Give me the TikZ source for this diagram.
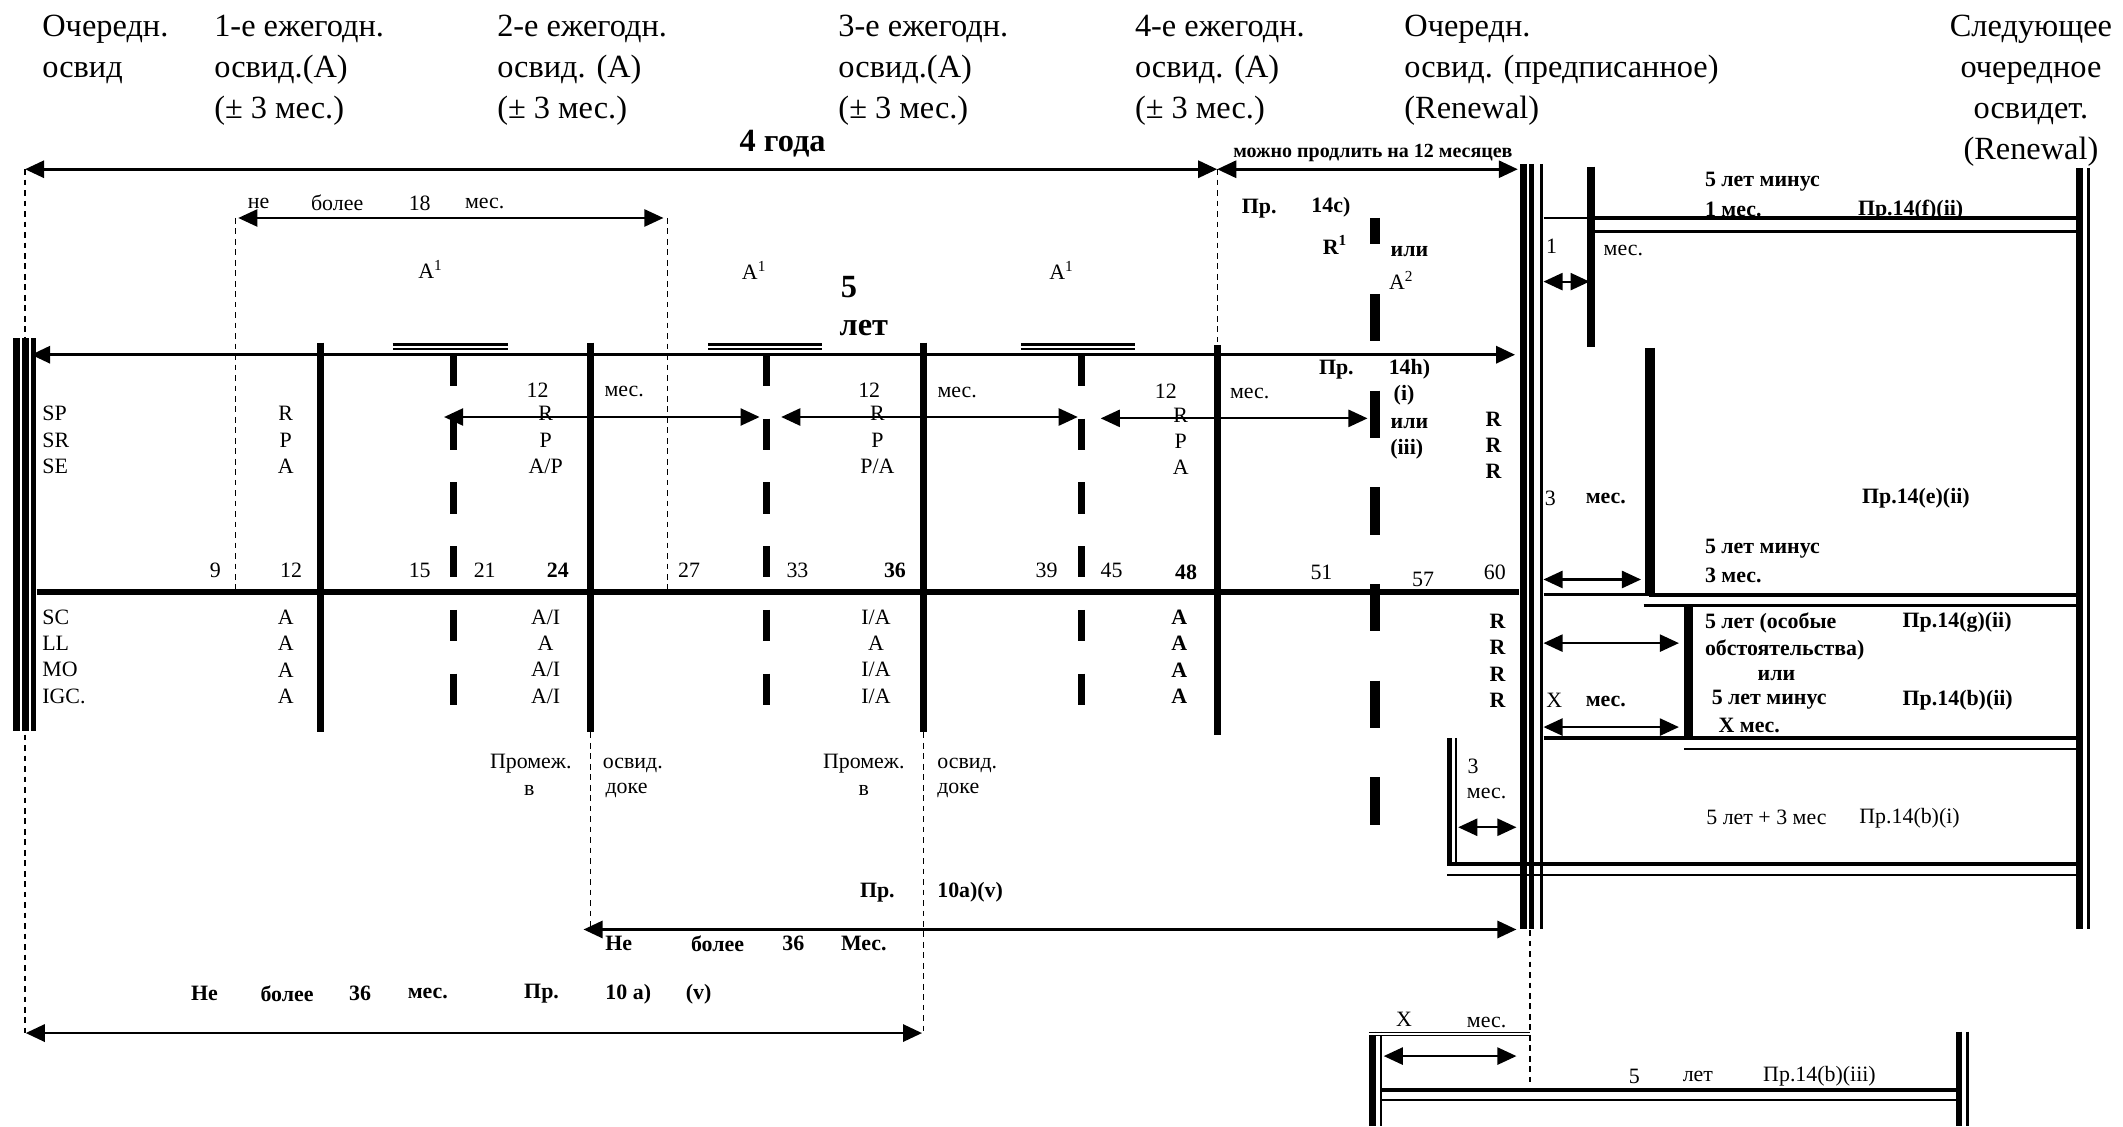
\documentclass[tikz,border=0pt]{standalone}
\usepackage{fontspec}
\setmainfont{Liberation Serif}
\usetikzlibrary{arrows.meta}

\newcommand\hdrsize{\fontsize{17}{21.5}\selectfont}
\newcommand\labsize{\fontsize{11.5}{13.8}\selectfont}
\newcommand\bigsize{\fontsize{17}{20}\selectfont\bfseries}

\tikzset{
  hdr/.style={font=\hdrsize, inner sep=0pt, align=left, anchor=north west},
  lab/.style={font=\labsize, inner sep=0pt, align=center},
  labb/.style={font=\labsize\bfseries, inner sep=0pt, align=center},
  bar/.style={line width=3.6pt},
  dashbar/.style={line width=3.6pt, dash pattern=on 16.4pt off 17.1pt},
  guide/.style={line width=0.6pt, dash pattern=on 3pt off 2.5pt},
  dim/.style={{Triangle[length=10pt,width=9pt]}-{Triangle[length=10pt,width=9pt]}, line width=1.1pt},
  twin/.style={double, line width=1.3pt, double distance=1.1pt},
}

\begin{document}
\begin{tikzpicture}[x=0.025cm,y=-0.025cm]
\useasboundingbox (0,0) rectangle (1568,832);

% headers
\node[hdr] (hfirst) at (31,11) {Очередн.\\освид};
\node[hdr] (hyear1) at (158,11) {1-е ежегодн.\\освид.(A)\\(± 3 мес.)};
\node[hdr] (hyear2) at (367,11) {2-е ежегодн.\\освид. (A)\\(± 3 мес.)};
\node[hdr] (hyear3) at (619,11) {3-е ежегодн.\\освид.(A)\\(± 3 мес.)};
\node[hdr] (hyear4) at (838,11) {4-е ежегодн.\\освид. (A)\\(± 3 мес.)};
\node[hdr] (hrenew) at (1037,11) {Очередн.\\освид. (предписанное)\\ (Renewal)};
\node[hdr, align=center, anchor=north] (hnext) at (1500,11) {Следующее\\очередное\\освидет.\\(Renewal)};

% 4 years / extension
\node[font=\bigsize, inner sep=0pt] (fouryears) at (578,106) {4 года};
\node[font=\fontsize{10.5}{12}\selectfont\bfseries, inner sep=0pt] (extend) at (1014,113) {можно продлить на 12 месяцев};
\draw[dim, line width=1.4pt] (18.5,125) -- (899,125);
\draw[dim, line width=1.4pt] (899,125) -- (1121,125);

% guides
\draw[guide] (18.5,125) -- (18.5,763);
\draw[guide] (174,161) -- (174,437);
\draw[guide] (493,161) -- (493,437);
\draw[guide] (899,125) -- (899,255);
\draw[guide] (436,541) -- (436,686);
\draw[guide] (682,541) -- (682,763);
\draw[guide] (1130,687) -- (1130,803);

% 18 months
\draw[dim] (176,161) -- (490,161);
\node[lab] (ne18) at (191,150) {не};
\node[lab] (bolee18) at (249,150) {более};
\node[lab] (n18) at (310,150) {18};
\node[lab] (mes18) at (358,150) {мес.};

\node[lab] (aone1) at (318,199) {A\textsuperscript{1}};
\node[lab] (aone2) at (557,200) {A\textsuperscript{1}};
\node[lab] (aone3) at (784,200) {A\textsuperscript{1}};
\node[font=\bigsize, inner sep=0pt] (five) at (627,212) {5};
\node[font=\bigsize, inner sep=0pt] (years) at (638,242) {лет};

\draw[twin] (290,256) -- (375,256);
\draw[twin] (523,256) -- (607,256);
\draw[twin] (754,256) -- (838,256);

% 5 years line and axis
\draw[dim, line width=1.6pt] (23,262) -- (1119,262);
\draw[line width=3pt] (27,437) -- (1122,437);

% left bars
\draw[line width=3.4pt] (12.3,250) -- (12.3,540);
\draw[line width=3.4pt] (19,250) -- (19,540);
\draw[line width=2.3pt] (24.8,250) -- (24.8,540);

% annual bars
\foreach \x in {237,436,682} \draw[bar] (\x,253) -- (\x,541);
\draw[bar] (899,255) -- (899,543);
\foreach \x in {335,566,799} \draw[dashbar] (\x,262) -- (\x,525);
\draw[line width=5.2pt] (1015.5,161) -- (1015.5,180);
\draw[line width=5.2pt, dash pattern=on 24.9pt off 25.9pt] (1015.5,217) -- (1015.5,610);

% 12 months arrows
\draw[dim] (328,308) -- (561,308);
\draw[dim] (577,308) -- (796,308);
\draw[dim] (813,309) -- (1010,309);
\node[lab] (tw1) at (397,288) {12};
\node[lab] (tw2) at (642,288) {12};
\node[lab] (tw3) at (861,289) {12};
\node[lab] (ms1) at (461,289) {мес.};
\node[lab] (ms2) at (707,290) {мес.};
\node[lab] (ms3) at (923,291) {мес.};

% rows
\node[lab, anchor=west, align=left] (rowsup) at (31,325) {SP\\SR\\SE};
\node[lab, anchor=west, align=left] (rowslow) at (31,485) {SC\\LL\\MO\\IGC.};
\node[lab] (c1up) at (211,325) {R\\P\\A};
\node[lab] (c1low) at (211,485) {A\\A\\A\\A};
\node[lab] (c2up) at (403,325) {R\\P\\A/P};
\node[lab] (c2low) at (403,485) {A/I\\A\\A/I\\A/I};
\node[lab] (c3up) at (648,325) {R\\P\\P/A};
\node[lab] (c3low) at (647,485) {I/A\\A\\I/A\\I/A};
\node[lab] (c4up) at (872,326) {R\\P\\A};
\node[labb] (c4low) at (871,485) {A\\A\\A\\A};
\node[labb] (c5up) at (1103,329) {R\\R\\R};
\node[labb] (c5low) at (1106,488) {R\\R\\R\\R};

% months
\foreach \n/\x/\y in {9/159/421,12/215/421,15/310/421,21/358/421,27/509/421,33/589/421,39/773/421,45/821/421,51/976/423,57/1051/428,60/1104/423}
  \node[lab] (m\n) at (\x,\y) {\n};
\foreach \n/\x/\y in {24/412/421,36/661/421,48/876/423}
  \node[labb] (m\n) at (\x,\y) {\n};

% rule 14
\node[labb] (pr14c) at (930,154) {Пр.};
\node[labb] (n14c) at (983,153) {14c)};
\node[labb] (rone) at (986,181) {R\textsuperscript{1}};
\node[labb] (ili1) at (1041,186) {или};
\node[lab] (atwo) at (1035,207) {A\textsuperscript{2}};
\node[labb] (pr14h) at (987,273) {Пр.};
\node[labb] (n14h) at (1041,273) {14h)};
\node[labb] (ri) at (1037,292) {(i)};
\node[labb] (ili2) at (1041,313) {или};
\node[labb] (riii) at (1039,332) {(iii)};

% renewal bars
\draw[line width=3.8pt] (1125.3,121) -- (1125.3,686);
\draw[line width=2.5pt] (1131.2,121) -- (1131.2,686);
\draw[line width=2pt] (1138.5,121) -- (1138.5,686);
\draw[line width=3.6pt] (1536,124) -- (1536,686);
\draw[line width=2pt] (1542.5,124) -- (1542.5,686);

% right side
\draw[line width=4.6pt] (1175,123) -- (1175,256);
\draw[line width=5pt] (1218.7,257) -- (1218.7,440);
\draw[line width=4.4pt] (1247,448) -- (1247,545);
\draw[line width=0.8pt] (1140,161) -- (1175,161);
\draw[line width=2pt] (1175,161) -- (1536,161);
\draw[line width=1.4pt] (1178,171) -- (1536,171);
\draw[line width=1.2pt] (1140,439) -- (1218,439);
\draw[line width=2.4pt] (1218,439.5) -- (1536,439.5);
\draw[line width=1.4pt] (1214,447) -- (1536,447);
\draw[line width=2pt] (1140,545) -- (1536,545);
\draw[line width=1pt] (1244,553) -- (1536,553);
\draw[line width=2.4pt] (1069,638) -- (1536,638);
\draw[line width=1pt] (1069,646) -- (1536,646);
\draw[line width=3pt] (1070.5,545) -- (1070.5,639);
\draw[line width=1pt] (1075.5,545) -- (1075.5,639);

\draw[dim] (1140,208) -- (1174,208);
\draw[dim] (1140,428) -- (1212,428);
\draw[dim] (1140,475) -- (1240,475);
\draw[dim] (1140,537) -- (1240,537);
\draw[dim] (1077,611) -- (1120,611);

\node[lab] (one1) at (1146,182) {1};
\node[lab] (onemes) at (1199,185) {мес.};
\node[labb, anchor=west] (f1) at (1259,134) {5 лет минус};
\node[labb, anchor=west] (f2) at (1259,155) {1 мес.};
\node[labb, anchor=west] (fpr) at (1372,155) {Пр.14(f)(ii)};
\node[lab] (three1) at (1145,368) {3};
\node[labb] (threemes) at (1186,368) {мес.};
\node[labb, anchor=west] (epr) at (1375,368) {Пр.14(e)(ii)};
\node[labb, anchor=west] (e1) at (1259,405) {5 лет минус};
\node[labb, anchor=west] (e2) at (1259,425) {3 мес.};
\node[labb, anchor=west] (g1) at (1259,460) {5 лет (особые};
\node[labb, anchor=west] (g2) at (1259,480) {обстоятельства)};
\node[labb] (g3) at (1312,499) {или};
\node[labb, anchor=west] (g4) at (1264,517) {5 лет минус};
\node[labb, anchor=west] (g5) at (1269,536) {X мес.};
\node[labb, anchor=west] (gpr) at (1405,460) {Пр.14(g)(ii)};
\node[labb, anchor=west] (bpr2) at (1405,517) {Пр.14(b)(ii)};
\node[lab] (xone) at (1148,517) {X};
\node[labb] (xmes) at (1186,518) {мес.};
\node[lab] (three2) at (1088,566) {3};
\node[lab] (threemes2) at (1098,586) {мес.};
\node[lab, anchor=west] (b1) at (1260,604) {5 лет + 3 мес};
\node[lab, anchor=west] (bpr1) at (1373,604) {Пр.14(b)(i)};

% bottom box
\draw[line width=3.6pt] (1013.6,762) -- (1013.6,832);
\draw[line width=1.4pt] (1020,762) -- (1020,832);
\draw[double, line width=0.7pt, double distance=0.8pt] (1011,763.5) -- (1130,763.5);
\draw[line width=2.2pt] (1021,805) -- (1447,805);
\draw[line width=1pt] (1021,812.5) -- (1447,812.5);
\draw[line width=3pt] (1447,762) -- (1447,832);
\draw[line width=1.4pt] (1453,762) -- (1453,832);
\draw[dim] (1022,780) -- (1120,780);
\node[lab] (xtwo) at (1037,753) {X};
\node[lab] (xmes2) at (1098,755) {мес.};
\node[lab] (b3five) at (1207,795) {5};
\node[lab] (b3let) at (1254,795) {лет};
\node[lab, anchor=west] (bpr3) at (1302,795) {Пр.14(b)(iii)};

% intermediate surveys
\node[lab] (pm1) at (392,564) {Промеж.};
\node[lab] (pv1) at (391,584) {в};
\node[lab, anchor=west] (po1) at (445,565) {освид.};
\node[lab, anchor=west] (pd1) at (447,584) {доке};
\node[lab] (pm2) at (638,564) {Промеж.};
\node[lab] (pv2) at (638,584) {в};
\node[lab, anchor=west] (po2) at (692,565) {освид.};
\node[lab, anchor=west] (pd2) at (692,584) {доке};
\node[labb] (pr10) at (648,659) {Пр.};
\node[labb, anchor=west] (n10) at (692,659) {10а)(v)};

\draw[dim, line width=1.4pt] (431,686.5) -- (1120,686.5);
\node[labb] (ne36a) at (457,697) {Не};
\node[labb] (bolee36a) at (530,697) {более};
\node[labb] (n36a) at (586,697) {36};
\node[labb] (mes36a) at (638,697) {Мес.};

\draw[dim, line width=1.4pt] (19,763) -- (681,763);
\node[labb] (ne36) at (151,734) {Не};
\node[labb] (bolee36) at (212,734) {более};
\node[labb] (n36) at (266,734) {36};
\node[labb] (mes36) at (316,734) {мес.};
\node[labb] (pr10b) at (400,734) {Пр.};
\node[labb] (n10b) at (464,734) {10 а)};
\node[labb] (v10b) at (516,734) {(v)};
\end{tikzpicture}
\end{document}
